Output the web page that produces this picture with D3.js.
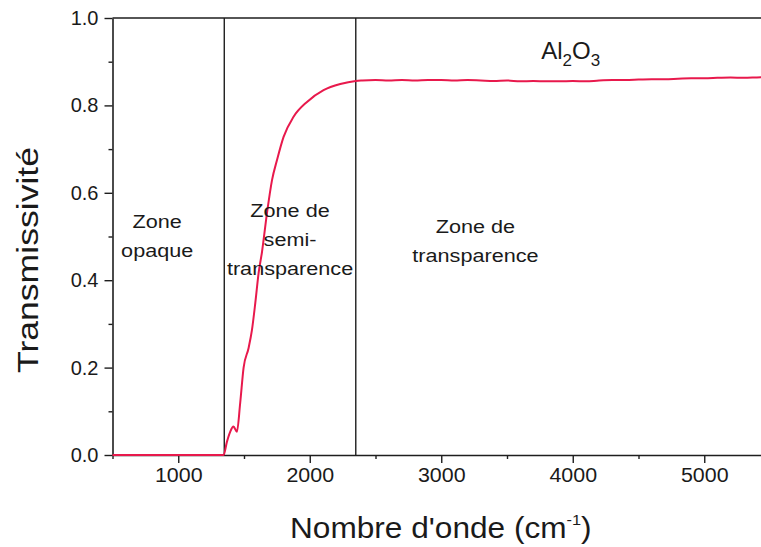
<!DOCTYPE html>
<html>
<head>
<meta charset="utf-8">
<script src="https://cdn.jsdelivr.net/npm/d3@7/dist/d3.min.js"></script>
<style>
  html, body { margin: 0; padding: 0; background: #fff; }
  svg { display: block; }
  text { font-family: "Liberation Sans", Arial, Helvetica, sans-serif; fill: #1a1a1a; }
</style>
</head>
<body>
<svg id="chart" width="761" height="547"></svg>
<script>
// Transmission spectrum of Al2O3: wavenumber (cm^-1) vs transmissivity
const wavenumber = [
  500, 800, 1100, 1345, 1370, 1395, 1420, 1446, 1471, 1497, 1535, 1560, 1586, 1611,
  1637, 1675, 1713, 1751, 1801, 1877, 1979, 2105, 2232, 2350,
  2400, 2500, 2600, 2700, 2800, 2900, 3000, 3100, 3200, 3300, 3400, 3500,
  3600, 3700, 3800, 3900, 4000, 4100, 4200, 4300, 4400, 4500, 4600, 4700,
  4800, 4900, 5000, 5100, 5200, 5300, 5400, 5500
];
const transmissivity = [
  0.000, 0.000, 0.000, 0.000, 0.030, 0.053, 0.065, 0.053, 0.119, 0.200, 0.245, 0.285, 0.348, 0.416,
  0.465, 0.554, 0.629, 0.675, 0.728, 0.774, 0.808, 0.835, 0.849, 0.856,
  0.857, 0.858, 0.857, 0.858, 0.857, 0.858, 0.858, 0.857, 0.858, 0.857, 0.856, 0.857,
  0.855, 0.856, 0.855, 0.855, 0.856, 0.855, 0.857, 0.858, 0.858, 0.859, 0.860, 0.860,
  0.861, 0.862, 0.862, 0.863, 0.864, 0.863, 0.864, 0.865
];

// Zone boundaries and labels
const zoneBounds = [1350, 2350];
const zoneLabels = [
  { lines: ["Zone", "opaque"], at: 840, top: 0.520 },
  { lines: ["Zone de", "semi-", "transparence"], at: 1850, top: 0.545 },
  { lines: ["Zone de", "transparence"], at: 3260, top: 0.508 }
];

const xMajor = [1000, 2000, 3000, 4000, 5000];
const xMinor = [500, 1500, 2500, 3500, 4500, 5500];
const yMajor = [0.0, 0.2, 0.4, 0.6, 0.8, 1.0];
const yMinor = [0.1, 0.3, 0.5, 0.7, 0.9];

const svg = d3.select("#chart");
const x = d3.scaleLinear().domain([500, 5500]).range([112.5, 770]);
const y = d3.scaleLinear().domain([0, 1]).range([455, 18]);

const ink = "#1e1e1e";

// Frame: top border and zone separators
svg.append("line")
  .attr("x1", x(500)).attr("x2", x(5500))
  .attr("y1", y(1)).attr("y2", y(1))
  .attr("stroke", ink).attr("stroke-width", 1.6);

svg.selectAll("line.zone").data(zoneBounds).join("line")
  .attr("class", "zone")
  .attr("x1", d => x(d)).attr("x2", d => x(d))
  .attr("y1", y(1)).attr("y2", y(0))
  .attr("stroke", ink).attr("stroke-width", 1.4);

// Axes (major ticks labelled, minor ticks short)
function styleAxis(g) {
  g.select(".domain").attr("stroke", ink).attr("stroke-width", 1.6);
  g.selectAll(".tick line").attr("stroke", ink).attr("stroke-width", 1.4);
  g.selectAll(".tick text").attr("fill", ink).style("font-size", "20px")
    .style("font-family", '"Liberation Sans", Arial, sans-serif');
}

const gx = svg.append("g").attr("transform", `translate(0,${y(0)})`)
  .call(d3.axisBottom(x).tickValues(xMajor).tickFormat(d3.format("d"))
    .tickSizeInner(8).tickSizeOuter(0).tickPadding(5));
styleAxis(gx);
gx.selectAll(".tick text").attr("transform", "scale(1.07,1)").attr("x", 0);

svg.append("g").attr("transform", `translate(0,${y(0)})`)
  .call(d3.axisBottom(x).tickValues(xMinor).tickFormat("").tickSizeInner(4).tickSizeOuter(0))
  .call(g => { g.select(".domain").remove(); g.selectAll(".tick line").attr("stroke", ink).attr("stroke-width", 1.4); });

const gy = svg.append("g").attr("transform", `translate(${x(500)},0)`)
  .call(d3.axisLeft(y).tickValues(yMajor).tickFormat(d3.format(".1f"))
    .tickSizeInner(8).tickSizeOuter(0).tickPadding(6));
styleAxis(gy);

svg.append("g").attr("transform", `translate(${x(500)},0)`)
  .call(d3.axisLeft(y).tickValues(yMinor).tickFormat("").tickSizeInner(4).tickSizeOuter(0))
  .call(g => { g.select(".domain").remove(); g.selectAll(".tick line").attr("stroke", ink).attr("stroke-width", 1.4); });

// Spectrum curve
const line = d3.line().x((d, i) => x(wavenumber[i])).y(d => y(d)).curve(d3.curveMonotoneX);
svg.append("path")
  .datum(transmissivity)
  .attr("d", line)
  .attr("fill", "none")
  .attr("stroke", "#e8194c")
  .attr("stroke-width", 2)
  .attr("stroke-linejoin", "round");

// Zone annotations
zoneLabels.forEach(z => {
  const t = svg.append("text")
    .attr("text-anchor", "middle")
    .style("font-size", "18.5px")
    .attr("transform", `translate(${x(z.at)},${y(z.top)}) scale(1.17,1)`);
  z.lines.forEach((s, i) => {
    t.append("tspan").attr("x", 0).attr("dy", i === 0 ? 0 : 29).text(s);
  });
});

// Material label with subscripts
const mat = svg.append("text")
  .attr("x", x(3760)).attr("y", 59)
  .style("font-size", "24px");
mat.append("tspan").text("Al");
mat.append("tspan").attr("dy", 7).style("font-size", "17px").text("2");
mat.append("tspan").attr("dy", -7).text("O");
mat.append("tspan").attr("dy", 7).style("font-size", "17px").text("3");

// Axis titles
const xt = svg.append("text")
  .attr("transform", "translate(290,538) scale(1.09,1)")
  .style("font-size", "29px");
xt.append("tspan").text("Nombre d'onde (cm");
xt.append("tspan").attr("dy", -13).style("font-size", "15px").text("-1");
xt.append("tspan").attr("dy", 13).text(")");

svg.append("text")
  .attr("transform", `translate(38,260) rotate(-90)`)
  .attr("text-anchor", "middle")
  .style("font-size", "30px")
  .attr("textLength", 226)
  .attr("lengthAdjust", "spacingAndGlyphs")
  .text("Transmissivité");
</script>
</body>
</html>
